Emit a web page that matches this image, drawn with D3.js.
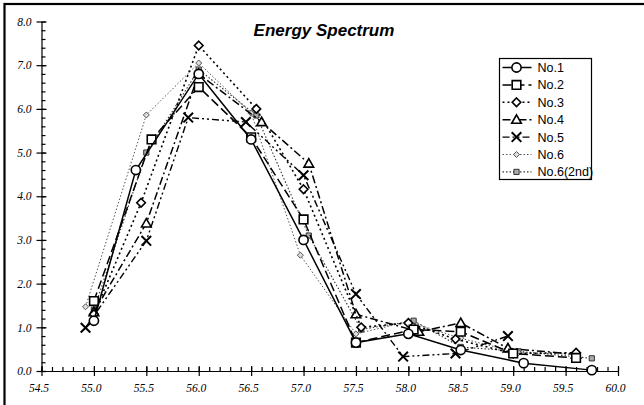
<!DOCTYPE html>
<html>
<head>
<meta charset="utf-8">
<script src="https://cdn.jsdelivr.net/npm/d3@7"></script>
<style>
	body { margin: 0; background: #fff; }
	svg { display: block; }
</style>
</head>
<body>
<div id="chart"></div>
<script>
// values
const seriesNames = ["No.1", "No.2", "No.3", "No.4", "No.5", "No.6", "No.6(2nd)"];

const no1X = [55.0, 55.4, 56.0, 56.5, 57.0, 57.5, 58.0, 58.5, 59.1, 59.75];
const no1Y = [1.15, 4.6, 6.8, 5.3, 3.0, 0.65, 0.85, 0.48, 0.18, 0.02];

const no2X = [55.0, 55.55, 56.0, 56.5, 57.0, 57.5, 58.05, 58.5, 59.0, 59.6];
const no2Y = [1.6, 5.3, 6.5, 5.35, 3.47, 0.65, 0.95, 0.9, 0.4, 0.3];

const no3X = [55.0, 55.45, 56.0, 56.55, 57.0, 57.55, 58.0, 58.45, 59.0, 59.6];
const no3Y = [1.3, 3.85, 7.45, 6.0, 4.16, 1.0, 1.1, 0.73, 0.4, 0.42];

const no4X = [55.0, 55.5, 56.0, 56.6, 57.05, 57.5, 58.1, 58.5, 58.95, 59.6];
const no4Y = [1.35, 3.38, 6.8, 5.7, 4.75, 1.3, 0.9, 1.1, 0.52, 0.38];

const no5X = [54.92, 55.5, 55.9, 56.45, 57.0, 57.5, 57.95, 58.45, 58.95];
const no5Y = [0.99, 2.98, 5.8, 5.7, 4.48, 1.76, 0.33, 0.4, 0.8];

const no6X = [54.92, 55.5, 56.0, 56.5, 56.97, 57.5, 58.0, 58.5, 59.05, 59.6];
const no6Y = [1.47, 5.86, 7.05, 5.9, 2.65, 0.85, 1.13, 0.75, 0.42, 0.38];

const no6bX = [55.0, 55.5, 56.0, 56.55, 57.05, 57.55, 58.05, 58.5, 59.05, 59.75];
const no6bY = [1.4, 5.0, 6.9, 5.85, 3.1, 0.95, 1.15, 0.55, 0.45, 0.29];

const xTicks = [54.5, 55.0, 55.5, 56.0, 56.5, 57.0, 57.5, 58.0, 58.5, 59.0, 59.5, 60.0];
const yTicks = [0, 1, 2, 3, 4, 5, 6, 7, 8];

const width = 644, height = 405;
const margin = {top: 21.5, left: 41.5};
const chartWidth = 576.5, chartHeight = 349.5;

// marker shapes, size = radius
const markers = {
	circle: {draw(c, r) { c.moveTo(r, 0); c.arc(0, 0, r, 0, 2 * Math.PI); }},
	square: {draw(c, r) { c.rect(-r, -r, 2 * r, 2 * r); }},
	diamond: {draw(c, r) { c.moveTo(0, -r); c.lineTo(r, 0); c.lineTo(0, r); c.lineTo(-r, 0); c.closePath(); }},
	triangle: {draw(c, r) { c.moveTo(0, -r); c.lineTo(r, r * 0.75); c.lineTo(-r, r * 0.75); c.closePath(); }},
	cross: {draw(c, r) { c.moveTo(-r, -r); c.lineTo(r, r); c.moveTo(r, -r); c.lineTo(-r, r); }}
};

const series = [
	{name: seriesNames[0], xs: no1X, ys: no1Y, marker: "circle", r: 4.6, dash: null, lw: 1.5, color: "#000", fill: "#fff", mw: 1.6},
	{name: seriesNames[1], xs: no2X, ys: no2Y, marker: "square", r: 4.3, dash: "9,4", lw: 1.5, color: "#000", fill: "#fff", mw: 1.6},
	{name: seriesNames[2], xs: no3X, ys: no3Y, marker: "diamond", r: 4.3, dash: "2,3", lw: 1.6, color: "#000", fill: "#fff", mw: 1.6},
	{name: seriesNames[3], xs: no4X, ys: no4Y, marker: "triangle", r: 4.8, dash: "8,3,2,3", lw: 1.5, color: "#000", fill: "#fff", mw: 1.6},
	{name: seriesNames[4], xs: no5X, ys: no5Y, marker: "cross", r: 4.8, dash: "7,3,2,3,2,3", lw: 1.4, color: "#000", fill: "none", mw: 2},
	{name: seriesNames[5], xs: no6X, ys: no6Y, marker: "diamond", r: 3, dash: "1.5,2", lw: 1, color: "#555", fill: "#ddd", mw: 1},
	{name: seriesNames[6], xs: no6bX, ys: no6bY, marker: "square", r: 2.6, dash: "1.5,2", lw: 1.1, color: "#333", fill: "#aaa", mw: 1}
];

const svg = d3.select("#chart").append("svg")
	.attr("width", width)
	.attr("height", height);

// outer frame
svg.append("rect")
	.attr("x", 4.5).attr("y", 4)
	.attr("width", 700).attr("height", 500)
	.attr("fill", "none")
	.attr("stroke", "#000")
	.attr("stroke-width", 2.2);

const x = d3.scaleLinear().domain([54.5, 60]).range([0, chartWidth]);
const y = d3.scaleLinear().domain([0, 8]).range([chartHeight, 0]);

const g = svg.append("g")
	.attr("transform", `translate(${margin.left}, ${margin.top})`);

drawAxes(g);
drawSeries(g);
drawLegend(svg);

svg.append("text")
	.attr("x", 324)
	.attr("y", 36)
	.attr("text-anchor", "middle")
	.style("font-family", "'Liberation Sans', Arial, sans-serif")
	.style("font-weight", "bold")
	.style("font-style", "italic")
	.style("font-size", "17px")
	.text("Energy Spectrum");

function drawAxes(g) {
	const minorX = d3.range(54.5, 60.001, 0.1);
	const minorY = d3.range(0, 8.001, 0.2);

	// minor ticks, pointing inside
	g.append("g")
		.attr("transform", `translate(0, ${chartHeight})`)
		.call(d3.axisBottom(x).tickValues(minorX).tickSize(-4).tickFormat("").tickSizeOuter(0))
		.call(a => a.select(".domain").remove());
	g.append("g")
		.call(d3.axisLeft(y).tickValues(minorY).tickSize(-4).tickFormat("").tickSizeOuter(0))
		.call(a => a.select(".domain").remove());

	// major ticks crossing the axis line
	const xAxis = g.append("g")
		.attr("transform", `translate(0, ${chartHeight})`)
		.call(d3.axisBottom(x).tickValues(xTicks).tickSize(5).tickSizeOuter(0).tickFormat(d3.format(".1f")));
	xAxis.selectAll(".tick line").attr("y1", -5);
	xAxis.selectAll("text")
		.attr("dy", "1.15em")
		.attr("dx", "-3");

	const yAxis = g.append("g")
		.call(d3.axisLeft(y).tickValues(yTicks).tickSize(5).tickSizeOuter(0).tickFormat(d3.format(".1f")));
	yAxis.selectAll(".tick line").attr("x1", 5);
	yAxis.selectAll("text")
		.attr("x", -10);

	g.selectAll(".tick text")
		.style("font-family", "'Liberation Serif', 'Times New Roman', serif")
		.style("font-style", "italic")
		.style("font-size", "11.5px")
		.attr("fill", "#000");
	g.selectAll(".domain, .tick line")
		.attr("stroke", "#000")
		.attr("stroke-width", 1.2);
}

function drawSeries(g) {
	const line = d3.line()
		.x(d => x(d[0]))
		.y(d => y(d[1]));

	// draw last series first so No.1 ends up on top
	series.slice().reverse().forEach(s => {
		const pts = s.xs.map((v, i) => [v, s.ys[i]]);
		g.append("path")
			.datum(pts)
			.attr("d", line)
			.attr("fill", "none")
			.attr("stroke", s.color)
			.attr("stroke-width", s.lw)
			.attr("stroke-dasharray", s.dash);

		g.selectAll(null)
			.data(pts)
			.enter()
			.append("path")
			.attr("transform", d => `translate(${x(d[0])}, ${y(d[1])})`)
			.attr("d", d3.symbol().type(markers[s.marker]).size(s.r))
			.attr("fill", s.fill)
			.attr("stroke", s.color)
			.attr("stroke-width", s.mw);
	});
}

function drawLegend(svg) {
	const lx = 499.5, ly = 58.5, rowH = 17.4;
	const legend = svg.append("g");

	legend.append("rect")
		.attr("x", lx).attr("y", ly)
		.attr("width", 92).attr("height", 121)
		.attr("fill", "#fff")
		.attr("stroke", "#000")
		.attr("stroke-width", 1.2);

	series.forEach((s, i) => {
		const cy = ly + 9 + i * rowH;
		legend.append("line")
			.attr("x1", lx + 3).attr("x2", lx + 32)
			.attr("y1", cy).attr("y2", cy)
			.attr("stroke", s.color)
			.attr("stroke-width", s.lw)
			.attr("stroke-dasharray", s.dash);
		legend.append("path")
			.attr("transform", `translate(${lx + 17}, ${cy})`)
			.attr("d", d3.symbol().type(markers[s.marker]).size(s.r))
			.attr("fill", s.fill)
			.attr("stroke", s.color)
			.attr("stroke-width", s.mw);
		legend.append("text")
			.attr("x", lx + 38)
			.attr("y", cy)
			.attr("dy", "0.36em")
			.style("font-family", "'Liberation Sans', Arial, sans-serif")
			.style("font-size", "12.5px")
			.text(s.name);
	});
}
</script>
</body>
</html>
